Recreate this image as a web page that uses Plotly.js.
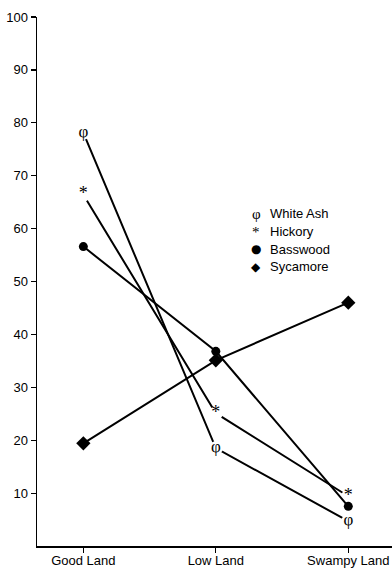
<!DOCTYPE html>
<html>
<head>
<meta charset="utf-8">
<script src="https://cdn.plot.ly/plotly-3.0.1.min.js"></script>
<style>html,body{margin:0;padding:0;background:#fff;}#chart{width:392px;height:570px;}</style>
</head>
<body>
<div id="chart"></div>
<script>
var categories = ['Good Land', 'Low Land', 'Swampy Land'];
var whiteAsh = [78.1, 18.5, 4.7];
var hickory = [66.4, 25.1, 9.4];
var basswood = [56.6, 36.8, 7.5];
var sycamore = [19.4, 35.1, 46.0];
var seriesNames = ['White Ash', 'Hickory', 'Basswood', 'Sycamore'];
var legendSymbols = ['φ', '*', '●', '◆'];
var yTicks = [10, 20, 30, 40, 50, 60, 70, 80, 90, 100];

var xIdx = categories.map(function (c, i) { return i; });
var lineStyle = {color: '#000', width: 2};

function textTrace(name, vals, glyph, size) {
  return {
    type: 'scatter', mode: 'lines+markers+text', name: name,
    x: xIdx, y: vals,
    line: lineStyle,
    marker: {color: '#fff', size: 14, line: {width: 0}},
    text: vals.map(function () { return glyph; }),
    textposition: 'middle center',
    textfont: {family: 'Liberation Serif, serif', size: size, color: '#000'},
    hoverinfo: 'skip', showlegend: false
  };
}

var traces = [
  textTrace(seriesNames[0], whiteAsh, 'φ', 17),
  textTrace(seriesNames[1], hickory, '*', 18),
  {type: 'scatter', mode: 'lines+markers', name: seriesNames[2], x: xIdx, y: basswood,
   line: lineStyle, marker: {symbol: 'circle', color: '#000', size: 9}, showlegend: false},
  {type: 'scatter', mode: 'lines+markers', name: seriesNames[3], x: xIdx, y: sycamore,
   line: lineStyle, marker: {symbol: 'diamond', color: '#000', size: 11}, showlegend: false}
];

var annotations = [];
seriesNames.forEach(function (n, i) {
  var yy = 0.628 - i * 0.0335;
  annotations.push({xref: 'paper', yref: 'paper', x: 0.617, y: yy, xanchor: 'center', yanchor: 'middle',
    text: legendSymbols[i], showarrow: false,
    font: {family: i < 2 ? 'Liberation Serif, serif' : 'DejaVu Sans, sans-serif', size: i < 2 ? 15 : 12, color: '#000'}});
  annotations.push({xref: 'paper', yref: 'paper', x: 0.652, y: yy, xanchor: 'left', yanchor: 'middle',
    text: n, showarrow: false,
    font: {family: 'Liberation Sans, Arial, sans-serif', size: 13, color: '#000'}});
});

var layout = {
  width: 392, height: 570,
  margin: {l: 37, r: 0, t: 17, b: 24},
  paper_bgcolor: '#fff', plot_bgcolor: '#fff',
  showlegend: false,
  font: {family: 'Liberation Sans, Arial, sans-serif', size: 13, color: '#000'},
  xaxis: {
    range: [-0.35, 2.33], tickmode: 'array', tickvals: xIdx, ticktext: categories,
    showline: true, linecolor: '#000', linewidth: 1.5, ticks: 'outside', ticklen: 5,
    tickcolor: '#000', tickwidth: 1.2, showgrid: false, zeroline: false, fixedrange: true,
    ticklabelstandoff: -3
  },
  yaxis: {
    range: [0, 100], tickmode: 'array', tickvals: yTicks,
    showline: true, linecolor: '#000', linewidth: 1.5, ticks: 'outside', ticklen: 5,
    tickcolor: '#000', tickwidth: 1.2, showgrid: false, zeroline: false, fixedrange: true
  },
  annotations: annotations
};

Plotly.newPlot('chart', traces, layout, {displayModeBar: false, staticPlot: true});
</script>
</body>
</html>
